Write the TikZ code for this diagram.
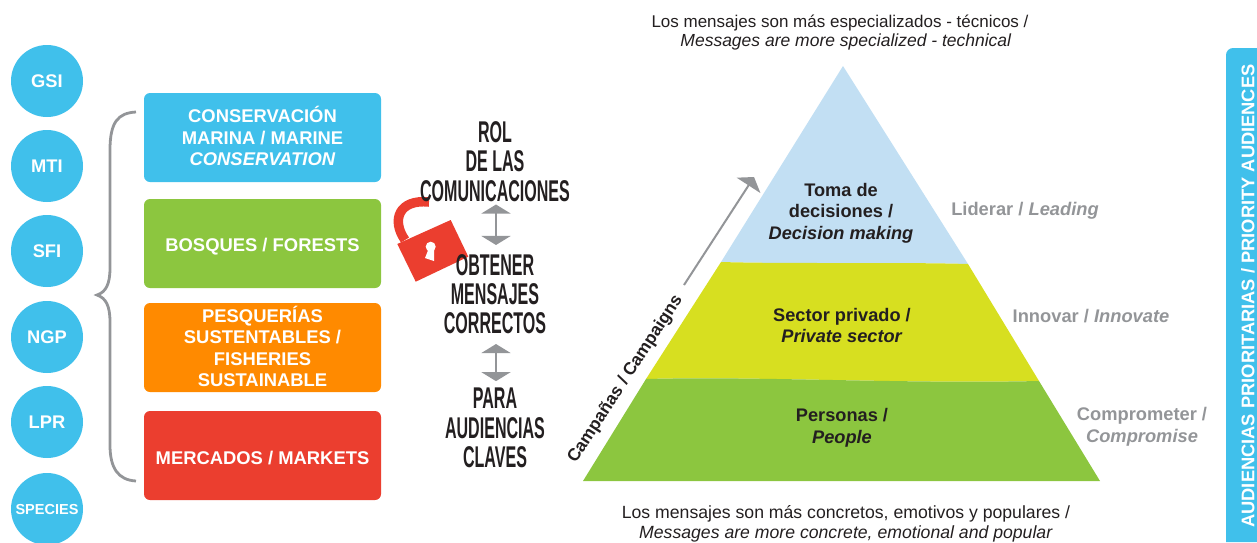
\documentclass[tikz,border=0pt]{standalone}
\usepackage{fontspec}
\setmainfont{Liberation Sans}
\newfontfamily\condfont[FakeStretch=0.535]{Liberation Sans Bold}
\usetikzlibrary{arrows.meta}
\definecolor{cBlue}{HTML}{40C0EB}
\definecolor{cGreen}{HTML}{8CC63F}
\definecolor{cOrange}{HTML}{FF8A00}
\definecolor{cRed}{HTML}{EB3E2F}
\definecolor{cSky}{HTML}{C2DFF3}
\definecolor{cLime}{HTML}{D7DF20}
\definecolor{cGray}{HTML}{939598}
\definecolor{cInk}{HTML}{231F20}
\tikzset{
	sphere/.style={circle,fill=cBlue,minimum size=72pt,inner sep=0pt,text=white,font=\fontsize{18.3}{21}\selectfont\bfseries},
	theme/.style={rounded corners=6pt,minimum width=237pt,minimum height=89pt,inner sep=0pt},
	themetext/.style={align=center,inner sep=0pt,text=white,font=\fontsize{18.4}{21.5}\selectfont\bfseries},
	title/.style={align=center,inner sep=0pt,text=cInk,font=\fontsize{30}{29.2}\condfont},
	level/.style={align=center,inner sep=0pt,text=cInk,font=\fontsize{18.2}{21.5}\selectfont\bfseries},
	verb/.style={align=center,inner sep=0pt,text=cGray,font=\fontsize{18.3}{22}\selectfont\bfseries},
	note/.style={align=center,inner sep=0pt,text=cInk},
	link/.style={cGray,line width=2pt},
	wide/.tip={Triangle[width=29pt,length=9pt]},
}
\begin{document}
\begin{tikzpicture}[x=1pt,y=-1pt]
	\useasboundingbox (0,0) rectangle (1257,542);
	\foreach \name/\ypos in {GSI/81,MTI/166,SFI/251,NGP/337,LPR/422}
		\node[sphere] (c\name) at (47,\ypos) {\name};
	\node[sphere,font=\fontsize{14.5}{17}\selectfont\bfseries] (cSPECIES) at (47,509) {SPECIES};
	\draw[cGray,line width=2.8pt] (136,112) .. controls (118,113) and (110,122) .. (110,150) -- (110,268) .. controls (110,284) and (106,292) .. (97,295) .. controls (106,298) and (110,306) .. (110,322) -- (110,445) .. controls (110,468) and (118,480) .. (136,481);
	\node[theme,fill=cBlue] (tMarine) at (262.5,137.5) {};
	\node[theme,fill=cGreen] (tForest) at (262.5,243.5) {};
	\node[theme,fill=cOrange] (tFish) at (262.5,347.5) {};
	\node[theme,fill=cRed] (tMarket) at (262.5,455.5) {};
	\node[themetext] (xMarine) at ([yshift=1.5pt]tMarine.center) {CONSERVACIÓN\\MARINA / MARINE\\\textit{CONSERVATION}};
	\node[themetext] (xForest) at ([yshift=-3.5pt]tForest.center) {BOSQUES / FORESTS};
	\node[themetext] (xFish) at ([yshift=1pt]tFish.center) {PESQUERÍAS\\SUSTENTABLES /\\FISHERIES\\SUSTAINABLE};
	\node[themetext] (xMarket) at ([yshift=-2.5pt]tMarket.center) {MERCADOS / MARKETS};
	\draw[cRed,line width=9.5pt] (405,240) .. controls (391,220) and (399,199) .. (429,202);
	\fill[cRed] (397.3,244) -- (450.7,220) -- (468.3,256.7) -- (415.7,281.7) -- cycle;
	\fill[white] (430.7,246.7) circle (5pt);
	\fill[white] (429,248) -- (425,258) -- (434,261) -- (434,248) -- cycle;
	\node[title] (tRol) at (495,161.5) {ROL\\DE LAS\\COMUNICACIONES};
	\node[title] (tMsg) at (495,294) {OBTENER\\MENSAJES\\CORRECTOS};
	\node[title] (tAud) at (495,428) {PARA\\AUDIENCIAS\\CLAVES};
	\draw[link,wide-wide] ([xshift=1pt,yshift=-3pt]tRol.south) -- ([xshift=1pt,yshift=9pt]tMsg.north);
	\draw[link,wide-wide] ([xshift=1pt,yshift=-10pt]tMsg.south) -- ([xshift=1pt,yshift=7pt]tAud.north);
	\fill[cSky] (843,66) -- (968,264) .. controls (900,262) and (790,264) .. (721,262) -- cycle;
	\fill[cLime] (721,262) .. controls (790,264) and (900,262) .. (968,264) -- (1039,381) .. controls (900,384) and (760,376) .. (646,379) -- cycle;
	\fill[cGreen] (646,379) .. controls (760,376) and (900,384) .. (1039,381) -- (1100,481) -- (583,481) -- cycle;
	\node[level] (lTop) at (841,213) {Toma de\\decisiones /\\\textit{Decision making}};
	\node[level] (lMid) at (842,325.5) {Sector privado /\\\textit{Private sector}};
	\node[level] (lLow) at (842,428) {Personas /\\\textit{People}};
	\node[verb] (vTop) at (1025,211) {Liderar / \textit{Leading}};
	\node[verb] (vMid) at (1091,316) {Innovar / \textit{Innovate}};
	\node[verb] (vLow) at (1142,427) {Comprometer /\\\textit{Compromise}};
	\node[note,font=\fontsize{17}{19.5}\selectfont] (nTop) at (840,32.5) {Los mensajes son más especializados - técnicos /\\\hspace*{12pt}{\fontsize{17.5}{19.5}\selectfont\textit{Messages are more specialized - technical}}};
	\node[note,font=\fontsize{17.65}{20}\selectfont] (nLow) at (846,524) {Los mensajes son más concretos, emotivos y populares /\\\textit{Messages are more concrete, emotional and popular}};
	\node[level,rotate=57,font=\fontsize{17.4}{21}\selectfont\bfseries] (lCamp) at (625.5,379) {Campañas / Campaigns};
	\coordinate (arrFrom) at (684,285);
	\coordinate (arrTo) at (754,177);
	\draw[link,-{Triangle[width=28pt,length=10pt]}] (arrFrom) -- (arrTo);
	\fill[cBlue] (1257,542) -- (1226,542) [rounded corners=7pt] -- (1226,48) [sharp corners] -- (1257,48) -- cycle;
	\node[rotate=90,inner sep=0pt,text=white,font=\fontsize{18.3}{20}\selectfont\bfseries] (bar) at (1248,296) {AUDIENCIAS PRIORITARIAS / PRIORITY AUDIENCES};
\end{tikzpicture}
\end{document}
